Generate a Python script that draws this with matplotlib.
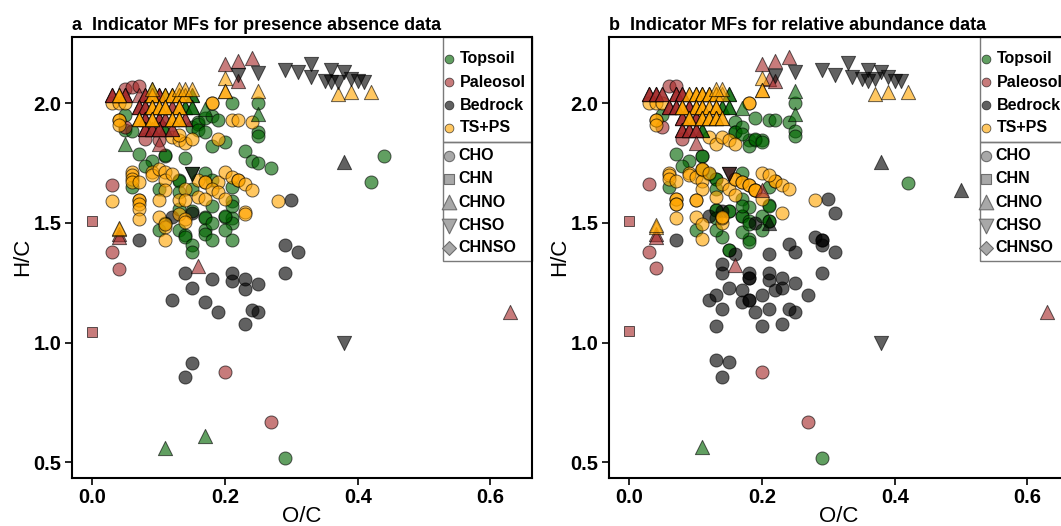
import matplotlib
matplotlib.use("Agg")
import matplotlib.pyplot as plt
from matplotlib.patches import Rectangle
from matplotlib.ticker import FormatStrFormatter

plt.rcParams["font.family"] = ["Liberation Sans", "DejaVu Sans"]

GROUPS = ["Topsoil", "Paleosol", "Bedrock", "TS+PS"]
GROUP_COLORS = ["darkgreen", "brown", "black", "orange"]
CLASSES = ["CHO", "CHN", "CHNO", "CHSO", "CHNSO"]
CLASS_MARKERS = ["o", "s", "^", "v", "D"]
MARKER_SIZES = {"o": 88, "s": 48, "^": 105, "v": 105, "D": 50}

X_TICKS = [0.0, 0.2, 0.4, 0.6]
Y_TICKS = [0.5, 1.0, 1.5, 2.0]

# ---- panel a: presence / absence ----
A_TOP_CHO = [
    (0.05, 1.95), (0.05, 1.89), (0.06, 1.885), (0.15, 1.90), (0.16, 1.92), (0.16, 1.915),
    (0.17, 1.94), (0.18, 1.945), (0.19, 1.93), (0.16, 1.89), (0.17, 1.88),
    (0.21, 2.0), (0.25, 2.0), (0.25, 1.88), (0.25, 1.865), (0.11, 1.78), (0.11, 1.785),
    (0.07, 1.79), (0.09, 1.76), (0.08, 1.74), (0.14, 1.77), (0.18, 1.82), (0.20, 1.84),
    (0.23, 1.80), (0.24, 1.76), (0.25, 1.75), (0.27, 1.73),
    (0.06, 1.65), (0.13, 1.68), (0.13, 1.675), (0.10, 1.64), (0.13, 1.63), (0.15, 1.64),
    (0.17, 1.71), (0.18, 1.68), (0.21, 1.65), (0.21, 1.59), (0.18, 1.57), (0.17, 1.525),
    (0.17, 1.52), (0.20, 1.525), (0.21, 1.52), (0.21, 1.50), (0.10, 1.47), (0.11, 1.50),
    (0.13, 1.56), (0.13, 1.47), (0.14, 1.45), (0.14, 1.44), (0.15, 1.41), (0.15, 1.38),
    (0.17, 1.47), (0.17, 1.455), (0.18, 1.43), (0.18, 1.50), (0.20, 1.47), (0.21, 1.43),
    (0.20, 1.53), (0.21, 1.57), (0.15, 1.55),
    (0.44, 1.78), (0.42, 1.67), (0.29, 0.52),
]
A_TOP_CHNO = [
    (0.05, 1.83), (0.17, 1.977), (0.25, 1.956), (0.11, 0.56), (0.17, 0.61),
    (0.15, 2.035), (0.15, 2.035), (0.11, 2.035), (0.09, 2.06),
    (0.14, 1.985), (0.14, 1.985), (0.15, 1.985), (0.15, 1.985), (0.11, 1.893), (0.11, 1.893),
]
A_TOP_CHSO = [(0.15, 1.706)]
A_PAL_CHO = [
    (0.05, 2.06), (0.06, 2.067), (0.07, 2.074), (0.08, 1.85), (0.10, 1.845), (0.05, 1.90),
    (0.03, 1.657), (0.03, 1.38), (0.04, 1.307), (0.20, 0.877), (0.27, 0.667),
]
A_PAL_CHN = [(0.0, 1.508), (0.0, 1.045)]
A_PAL_CHNO = [
    (0.03, 2.035), (0.03, 2.035), (0.03, 2.035), (0.05, 2.035), (0.05, 2.035), (0.05, 2.035),
    (0.07, 2.035), (0.08, 2.035), (0.08, 2.035), (0.08, 2.035),
    (0.10, 2.035), (0.10, 2.035), (0.10, 2.035),
    (0.07, 1.985), (0.07, 1.985), (0.07, 1.985), (0.08, 1.985), (0.08, 1.985), (0.08, 1.985),
    (0.12, 1.985), (0.12, 1.985),
    (0.08, 1.935), (0.08, 1.935), (0.08, 1.935), (0.10, 1.935), (0.10, 1.935), (0.10, 1.935),
    (0.11, 1.935), (0.11, 1.935), (0.14, 1.935), (0.14, 1.935),
    (0.08, 1.893), (0.08, 1.893), (0.08, 1.893), (0.09, 1.893), (0.09, 1.893), (0.09, 1.893),
    (0.10, 1.893), (0.10, 1.893), (0.10, 1.893), (0.12, 1.893), (0.12, 1.893),
    (0.10, 1.83), (0.04, 1.455), (0.04, 1.44), (0.16, 1.322), (0.63, 1.13),
    (0.20, 2.165), (0.22, 2.176), (0.24, 2.19), (0.22, 2.095),
]
A_BED_CHO = [
    (0.07, 1.428), (0.12, 1.525), (0.15, 1.54), (0.30, 1.595), (0.29, 1.41), (0.31, 1.38),
    (0.29, 1.29), (0.14, 1.289), (0.18, 1.266), (0.15, 1.227), (0.12, 1.179), (0.17, 1.168),
    (0.19, 1.127), (0.21, 1.29), (0.21, 1.257), (0.23, 1.266), (0.23, 1.226), (0.25, 1.247),
    (0.24, 1.138), (0.25, 1.127), (0.23, 1.077), (0.15, 0.916), (0.14, 0.857),
]
A_BED_CHNO = [(0.38, 1.754)]
A_BED_CHSO = [
    (0.29, 2.14), (0.31, 2.13), (0.33, 2.165), (0.33, 2.11), (0.35, 2.095), (0.36, 2.14),
    (0.36, 2.09), (0.37, 2.09), (0.38, 2.13), (0.39, 2.10), (0.40, 2.095), (0.41, 2.09),
    (0.22, 2.116), (0.25, 2.126), (0.15, 1.706), (0.38, 1.0),
]
A_TS_CHO = [
    (0.03, 2.0), (0.04, 2.0), (0.05, 2.0), (0.04, 1.93), (0.04, 1.93), (0.04, 1.91),
    (0.18, 2.0), (0.18, 2.0), (0.21, 1.93), (0.22, 1.928), (0.24, 1.92),
    (0.12, 1.86), (0.13, 1.845), (0.14, 1.835), (0.15, 1.85), (0.19, 1.852), (0.13, 1.866),
    (0.06, 1.713), (0.06, 1.699), (0.06, 1.685), (0.06, 1.671), (0.07, 1.67), (0.09, 1.713),
    (0.09, 1.70), (0.10, 1.727), (0.11, 1.713), (0.11, 1.678), (0.12, 1.706),
    (0.11, 1.636), (0.14, 1.643), (0.16, 1.678), (0.17, 1.671), (0.17, 1.671), (0.19, 1.671),
    (0.18, 1.643), (0.19, 1.63), (0.20, 1.713), (0.21, 1.692), (0.22, 1.678), (0.22, 1.678),
    (0.23, 1.664), (0.24, 1.639), (0.20, 1.601), (0.16, 1.608), (0.17, 1.601), (0.23, 1.546),
    (0.28, 1.59), (0.03, 1.59), (0.07, 1.595), (0.07, 1.595), (0.07, 1.58), (0.07, 1.56),
    (0.07, 1.518), (0.10, 1.595), (0.10, 1.525), (0.11, 1.483), (0.13, 1.597), (0.13, 1.539),
    (0.14, 1.595), (0.14, 1.518), (0.14, 1.504), (0.11, 1.428), (0.11, 1.497), (0.23, 1.539),
]
A_TS_CHNO = [
    (0.04, 2.035), (0.04, 2.035), (0.04, 2.035), (0.09, 2.035), (0.09, 2.035), (0.09, 2.035),
    (0.11, 2.035), (0.11, 2.035), (0.12, 2.035), (0.12, 2.035), (0.12, 2.035),
    (0.13, 2.035), (0.13, 2.035), (0.14, 2.035), (0.14, 2.035),
    (0.09, 2.06), (0.13, 2.06), (0.14, 2.06), (0.15, 2.06),
    (0.09, 1.985), (0.09, 1.985), (0.09, 1.985), (0.10, 1.985), (0.10, 1.985), (0.10, 1.985),
    (0.11, 1.985), (0.11, 1.985), (0.11, 1.985), (0.13, 1.985), (0.13, 1.985), (0.13, 1.985),
    (0.07, 1.935), (0.07, 1.935), (0.07, 1.935), (0.09, 1.935), (0.09, 1.935), (0.09, 1.935),
    (0.12, 1.935), (0.12, 1.935), (0.12, 1.935), (0.13, 1.935), (0.13, 1.935), (0.13, 1.935),
    (0.04, 1.476), (0.04, 1.48), (0.20, 2.105), (0.20, 2.053), (0.20, 2.053), (0.25, 2.05),
    (0.37, 2.04), (0.39, 2.046), (0.42, 2.046),
]

# ---- panel b: relative abundance ----
B_TOP_CHO = [
    (0.05, 1.953), (0.16, 1.92), (0.16, 1.88), (0.16, 1.88), (0.17, 1.90), (0.18, 1.845),
    (0.19, 1.94), (0.19, 1.845), (0.20, 1.845), (0.21, 1.93), (0.22, 1.93), (0.24, 1.92),
    (0.25, 2.0), (0.25, 1.885), (0.25, 1.865),
    (0.07, 1.79), (0.09, 1.76), (0.08, 1.74), (0.11, 1.78), (0.11, 1.78), (0.12, 1.705),
    (0.11, 1.72), (0.17, 1.71), (0.18, 1.82), (0.19, 1.85), (0.20, 1.84), (0.17, 1.87),
    (0.06, 1.65), (0.13, 1.685), (0.13, 1.685), (0.21, 1.65), (0.17, 1.60), (0.13, 1.643),
    (0.21, 1.573), (0.18, 1.567), (0.10, 1.47), (0.13, 1.553), (0.13, 1.553), (0.13, 1.52),
    (0.15, 1.55), (0.15, 1.55), (0.17, 1.527), (0.17, 1.527), (0.18, 1.51), (0.20, 1.53),
    (0.21, 1.51), (0.21, 1.51), (0.20, 1.47), (0.18, 1.434), (0.14, 1.44), (0.15, 1.386),
    (0.15, 1.386), (0.13, 1.47), (0.17, 1.463), (0.18, 1.42), (0.18, 1.497), (0.21, 1.57),
    (0.17, 1.57), (0.42, 1.668), (0.29, 0.518),
]
B_TOP_CHNO = [
    (0.17, 1.98), (0.25, 2.05), (0.25, 1.955), (0.11, 0.5625),
    (0.15, 2.04), (0.15, 2.04), (0.14, 1.986), (0.14, 1.986), (0.15, 1.986), (0.15, 1.986),
    (0.11, 1.89), (0.11, 1.89),
]
B_PAL_CHO = [
    (0.06, 2.074), (0.07, 2.07), (0.08, 1.85), (0.05, 1.90), (0.03, 1.664), (0.03, 1.379),
    (0.04, 1.31), (0.20, 0.879), (0.27, 0.668),
]
B_PAL_CHN = [(0.0, 1.508), (0.0, 1.05)]
B_PAL_CHNO = [
    (0.03, 2.04), (0.03, 2.04), (0.03, 2.04), (0.04, 2.04), (0.04, 2.04), (0.04, 2.04),
    (0.05, 2.04), (0.05, 2.04), (0.07, 2.04), (0.07, 2.04), (0.07, 2.04),
    (0.08, 2.04), (0.08, 2.04), (0.08, 2.04),
    (0.06, 1.986), (0.06, 1.986), (0.06, 1.986), (0.07, 1.986), (0.07, 1.986), (0.07, 1.986),
    (0.09, 1.986), (0.09, 1.986), (0.09, 1.986),
    (0.08, 1.94), (0.08, 1.94), (0.08, 1.94), (0.10, 1.94), (0.10, 1.94), (0.10, 1.94),
    (0.08, 1.89), (0.08, 1.89), (0.08, 1.89), (0.09, 1.89), (0.09, 1.89), (0.09, 1.89),
    (0.10, 1.89), (0.10, 1.89), (0.10, 1.89),
    (0.10, 1.835), (0.04, 1.455), (0.04, 1.44), (0.16, 1.324), (0.20, 1.636), (0.63, 1.13),
    (0.20, 2.165), (0.22, 2.178), (0.24, 2.195), (0.21, 2.10), (0.22, 2.095),
]
B_PAL_CHSO = [(0.15, 1.705)]
B_BED_CHO = [
    (0.07, 1.428), (0.12, 1.53), (0.16, 1.372), (0.19, 1.50), (0.21, 1.372), (0.24, 1.414),
    (0.25, 1.379), (0.28, 1.44), (0.29, 1.428), (0.29, 1.428), (0.29, 1.41), (0.31, 1.379),
    (0.31, 1.54), (0.30, 1.60), (0.29, 1.29), (0.27, 1.20), (0.25, 1.25), (0.23, 1.27),
    (0.23, 1.23), (0.22, 1.222), (0.21, 1.29), (0.21, 1.26), (0.20, 1.20), (0.18, 1.27),
    (0.18, 1.27), (0.18, 1.29), (0.18, 1.18), (0.18, 1.18), (0.17, 1.17), (0.17, 1.222),
    (0.15, 1.23), (0.14, 1.33), (0.14, 1.29), (0.13, 1.20), (0.12, 1.18), (0.14, 1.14),
    (0.19, 1.13), (0.21, 1.14), (0.24, 1.14), (0.25, 1.13), (0.23, 1.078), (0.20, 1.07),
    (0.13, 1.07), (0.13, 0.928), (0.15, 0.918), (0.14, 0.858), (0.14, 1.55),
]
B_BED_CHNO = [(0.38, 1.754), (0.50, 1.636), (0.21, 1.50)]
B_BED_CHSO = [
    (0.29, 2.14), (0.31, 2.12), (0.33, 2.17), (0.335, 2.11), (0.35, 2.10), (0.36, 2.095),
    (0.36, 2.14), (0.37, 2.10), (0.38, 2.13), (0.39, 2.11), (0.40, 2.095), (0.41, 2.095),
    (0.22, 2.115), (0.25, 2.13), (0.15, 1.705), (0.38, 1.0),
]
B_TS_CHO = [
    (0.03, 2.0), (0.04, 2.0), (0.05, 2.0), (0.04, 1.93), (0.04, 1.93), (0.04, 1.91),
    (0.18, 2.0), (0.18, 2.0), (0.12, 1.86), (0.13, 1.83), (0.14, 1.86), (0.15, 1.845),
    (0.16, 1.83),
    (0.06, 1.71), (0.06, 1.70), (0.06, 1.685), (0.07, 1.677), (0.09, 1.71), (0.09, 1.70),
    (0.10, 1.69), (0.11, 1.677), (0.11, 1.727), (0.11, 1.727), (0.12, 1.71), (0.14, 1.664),
    (0.15, 1.643), (0.16, 1.615), (0.13, 1.609), (0.11, 1.643), (0.10, 1.594), (0.10, 1.594),
    (0.07, 1.60), (0.07, 1.60), (0.07, 1.58), (0.07, 1.58), (0.07, 1.52),
    (0.16, 1.685), (0.16, 1.685), (0.17, 1.67), (0.17, 1.67), (0.18, 1.657), (0.18, 1.657),
    (0.19, 1.636), (0.19, 1.636), (0.19, 1.636), (0.20, 1.71), (0.22, 1.677), (0.22, 1.677),
    (0.23, 1.657), (0.24, 1.64), (0.21, 1.70), (0.20, 1.60), (0.23, 1.54), (0.28, 1.594),
    (0.11, 1.434), (0.14, 1.50), (0.14, 1.52), (0.10, 1.525), (0.11, 1.497), (0.14, 1.525),
]
B_TS_CHNO = [
    (0.09, 2.04), (0.09, 2.04), (0.10, 2.04), (0.10, 2.04), (0.10, 2.04),
    (0.11, 2.04), (0.11, 2.04), (0.11, 2.04), (0.12, 2.04), (0.12, 2.04), (0.12, 2.04),
    (0.13, 2.04), (0.13, 2.04), (0.14, 2.04), (0.14, 2.06), (0.13, 2.06),
    (0.08, 1.986), (0.08, 1.986), (0.08, 1.986), (0.10, 1.986), (0.10, 1.986), (0.10, 1.986),
    (0.11, 1.986), (0.11, 1.986), (0.11, 1.986), (0.12, 1.986), (0.12, 1.986),
    (0.13, 1.986), (0.13, 1.986), (0.13, 1.986),
    (0.09, 1.94), (0.09, 1.94), (0.09, 1.94), (0.11, 1.94), (0.11, 1.94), (0.11, 1.94),
    (0.12, 1.94), (0.12, 1.94), (0.12, 1.94), (0.13, 1.94), (0.13, 1.94), (0.13, 1.94),
    (0.14, 1.94), (0.14, 1.94),
    (0.04, 1.483), (0.04, 1.49), (0.20, 2.105), (0.20, 2.055), (0.20, 2.055),
    (0.37, 2.04), (0.39, 2.046), (0.42, 2.046),
]

PANEL_A = {
    ("Topsoil", "CHO"): A_TOP_CHO, ("Topsoil", "CHNO"): A_TOP_CHNO, ("Topsoil", "CHSO"): A_TOP_CHSO,
    ("Paleosol", "CHO"): A_PAL_CHO, ("Paleosol", "CHN"): A_PAL_CHN, ("Paleosol", "CHNO"): A_PAL_CHNO,
    ("Bedrock", "CHO"): A_BED_CHO, ("Bedrock", "CHNO"): A_BED_CHNO, ("Bedrock", "CHSO"): A_BED_CHSO,
    ("TS+PS", "CHO"): A_TS_CHO, ("TS+PS", "CHNO"): A_TS_CHNO,
}
PANEL_B = {
    ("Topsoil", "CHO"): B_TOP_CHO, ("Topsoil", "CHNO"): B_TOP_CHNO,
    ("Paleosol", "CHO"): B_PAL_CHO, ("Paleosol", "CHN"): B_PAL_CHN, ("Paleosol", "CHNO"): B_PAL_CHNO,
    ("Paleosol", "CHSO"): B_PAL_CHSO,
    ("Bedrock", "CHO"): B_BED_CHO, ("Bedrock", "CHNO"): B_BED_CHNO, ("Bedrock", "CHSO"): B_BED_CHSO,
    ("TS+PS", "CHO"): B_TS_CHO, ("TS+PS", "CHNO"): B_TS_CHNO,
}

ALPHA = 0.62


def draw_key(ax):
    # legend drawn by hand: two stacked boxes glued to the top-right corner
    box = dict(transform=ax.transAxes, fill=False, edgecolor="#7a7a7a", linewidth=1.0, clip_on=False)
    ax.add_patch(Rectangle((0.8065, 0.761), 0.1935, 0.239, **box))
    ax.add_patch(Rectangle((0.8065, 0.491), 0.1935, 0.270, **box))

    for label, color, y in zip(GROUPS, GROUP_COLORS, [0.950, 0.897, 0.845, 0.793]):
        ax.scatter([0.8196], [y], transform=ax.transAxes, s=40, c=color, alpha=ALPHA,
                   edgecolors="black", linewidths=0.6, clip_on=False)
        ax.text(0.8435, y, label, transform=ax.transAxes, fontsize=11.5, fontweight="bold",
                va="center", ha="left")

    for label, marker, y in zip(CLASSES, CLASS_MARKERS, [0.730, 0.678, 0.625, 0.571, 0.521]):
        size = {"o": 55, "s": 45, "^": 110, "v": 110, "D": 50}[marker]
        ax.scatter([0.8196], [y], transform=ax.transAxes, s=size, marker=marker, c="#a8a8a8",
                   edgecolors="#6e6e6e", linewidths=0.8, clip_on=False)
        ax.text(0.8398, y, label, transform=ax.transAxes, fontsize=11.5, fontweight="bold",
                va="center", ha="left")


def draw_panel(ax, data, title):
    for cls, marker in zip(CLASSES, CLASS_MARKERS):
        for group, color in zip(GROUPS, GROUP_COLORS):
            pts = data.get((group, cls))
            if not pts:
                continue
            xs = [p[0] for p in pts]
            ys = [p[1] for p in pts]
            ax.scatter(xs, ys, s=MARKER_SIZES[marker], marker=marker, c=color, alpha=ALPHA,
                       edgecolors="black", linewidths=0.7)

    draw_key(ax)

    ax.set_xlim(-0.0306, 0.6627)
    ax.set_ylim(0.436, 2.278)
    ax.set_xticks(X_TICKS)
    ax.set_yticks(Y_TICKS)
    ax.xaxis.set_major_formatter(FormatStrFormatter("%.1f"))
    ax.yaxis.set_major_formatter(FormatStrFormatter("%.1f"))
    ax.tick_params(direction="out", length=5, width=1.2, labelsize=14.5, pad=2.5)
    for lab in ax.get_xticklabels() + ax.get_yticklabels():
        lab.set_fontweight("bold")
    for spine in ax.spines.values():
        spine.set_linewidth(1.5)

    ax.set_xlabel("O/C", fontsize=16, labelpad=-1)
    ax.set_ylabel("H/C", fontsize=16, labelpad=0)
    ax.set_title(title, loc="left", fontsize=13, fontweight="bold", pad=5)


fig = plt.figure(figsize=(10.61, 5.26), dpi=100)
ax_a = fig.add_axes([72 / 1061, 1 - 477.7 / 526, 460 / 1061, 441 / 526])
ax_b = fig.add_axes([609 / 1061, 1 - 477.7 / 526, 460 / 1061, 441 / 526])

draw_panel(ax_a, PANEL_A, "a  Indicator MFs for presence absence data")
draw_panel(ax_b, PANEL_B, "b  Indicator MFs for relative abundance data")

fig.savefig("out.png", dpi=100, facecolor="white")
